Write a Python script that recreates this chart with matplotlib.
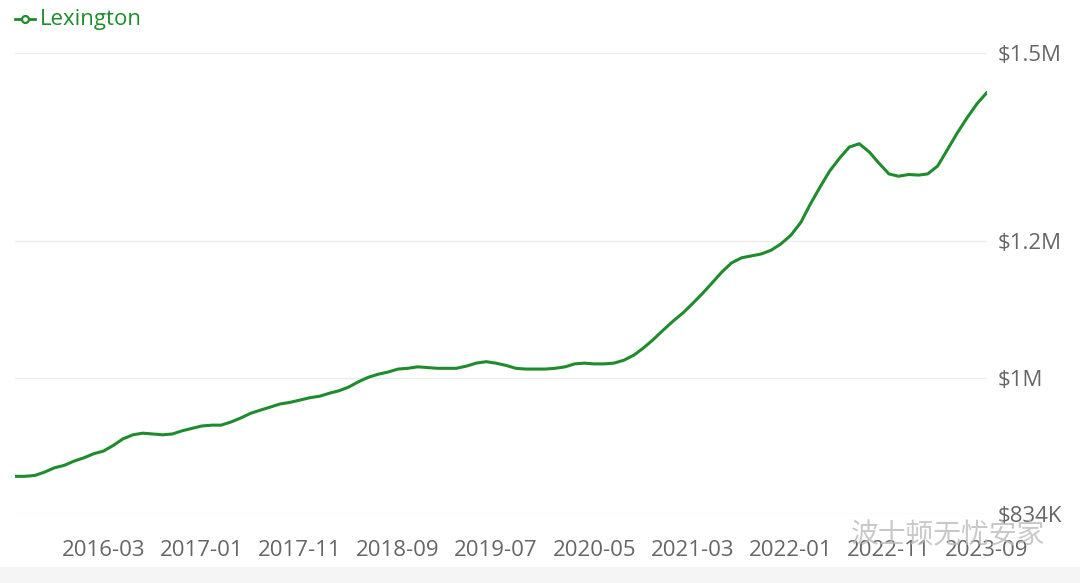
import matplotlib
matplotlib.use("Agg")
import matplotlib.pyplot as plt
import pandas as pd

# monthly median price, $K (2015-06 .. 2023-09)
months = pd.date_range("2015-06-01", periods=100, freq="MS")
price_k = [877, 877, 878, 882, 887, 890, 895, 899, 904, 907,
           914, 922, 927, 929, 928, 927, 928, 932, 935, 938,
           939, 939, 943, 948, 954, 958, 962, 966, 968, 971,
           974, 976, 980, 983, 988, 995, 1001, 1005, 1008, 1012,
           1013, 1015, 1014, 1013, 1013, 1013, 1016, 1020, 1022, 1020,
           1017, 1013, 1012, 1012, 1012, 1013, 1015, 1019, 1020, 1019,
           1019, 1020, 1024, 1031, 1041, 1053, 1066, 1079, 1091, 1104,
           1119, 1135, 1152, 1166, 1174, 1177, 1180, 1186, 1196, 1210,
           1231, 1260, 1290, 1318, 1341, 1361, 1367, 1352, 1332, 1313,
           1309, 1312, 1311, 1313, 1327, 1356, 1387, 1415, 1442, 1464]

x_ticks = ["2016-03", "2017-01", "2017-11", "2018-09", "2019-07",
           "2020-05", "2021-03", "2022-01", "2022-11", "2023-09"]
y_ticks = [834000, 1000000, 1200000, 1543000]
y_labels = ["$834K", "$1M", "$1.2M", "$1.5M"]

green = "#1e8c2c"
grey = "#666666"

plt.rcParams["font.family"] = ["Open Sans", "DejaVu Sans"]

fig = plt.figure(figsize=(10.8, 5.83), dpi=100)
ax = fig.add_axes([15/1080, 1-514/583, (987-15)/1080, (514-53)/583])

ax.plot(months, [p*1000 for p in price_k], color=green, lw=2.2,
        solid_capstyle="round", solid_joinstyle="round")

ax.set_yscale("log")
ax.set_ylim(834000, 1543000)
ax.set_xlim(months[0], months[-1])
ax.yaxis.set_major_locator(plt.FixedLocator(y_ticks))
ax.yaxis.set_minor_locator(plt.NullLocator())
ax.set_yticklabels(y_labels)
ax.yaxis.tick_right()

ax.set_xticks([pd.Timestamp(t + "-01") for t in x_ticks])
ax.set_xticklabels(x_ticks)

ax.tick_params(axis="y", length=0, pad=8, labelsize=16, labelcolor=grey)
ax.tick_params(axis="x", length=0, pad=19, labelsize=16, labelcolor=grey)
ax.grid(axis="y", color="#ececec", lw=1)
ax.grid(axis="x", visible=False)
for s in ax.spines.values():
    s.set_visible(False)

# legend
fig.lines.append(plt.Line2D([15/1080, 35/1080], [1-19/583, 1-19/583],
                            color=green, lw=2, transform=fig.transFigure))
fig.lines.append(plt.Line2D([25/1080], [1-19/583], marker="o", ms=5,
                            mfc="white", mec=green, mew=1.6,
                            transform=fig.transFigure))
fig.text(40/1080, 1-19/583, "Lexington", color=green, fontsize=16,
         va="center", ha="left")

# bottom band
fig.patches.append(plt.Rectangle((0, 0), 1, 16/583, color="#f5f5f5",
                                 transform=fig.transFigure, zorder=0))

# watermark
fig.text(1045/1080, 1-535/583, "波士顿无忧安家", color="#bbbbbb", alpha=0.8,
         fontsize=20, ha="right", va="center",
         family=["Noto Sans CJK SC", "DejaVu Sans"])

fig.savefig("out.png", dpi=100)
